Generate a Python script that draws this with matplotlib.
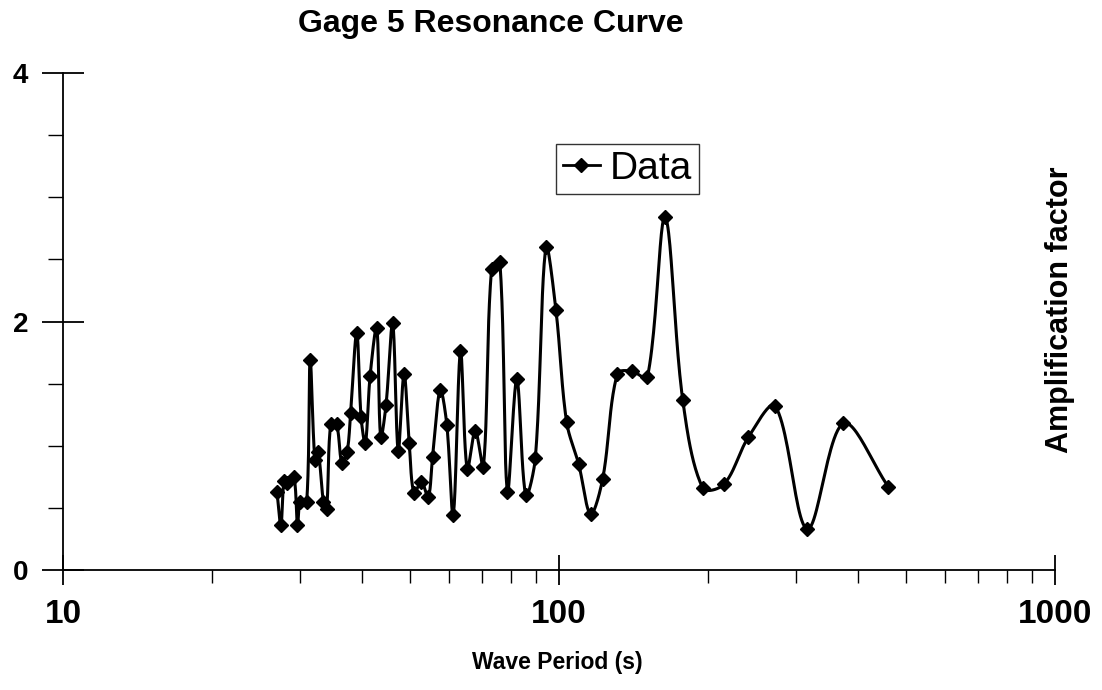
import numpy as np
import matplotlib
matplotlib.use("Agg")
import matplotlib.pyplot as plt
from matplotlib.ticker import FixedLocator, NullFormatter, LogLocator

plt.rcParams['font.family'] = ['Liberation Sans', 'DejaVu Sans']

# Data
period = [27.0, 27.5, 27.9, 28.3, 29.2, 29.7, 30.1, 31.0, 31.5, 32.2, 32.7, 33.5, 34.0,
          34.65, 35.6, 36.5, 37.4, 38.0, 39.1, 39.9, 40.7, 41.6, 42.9, 43.7, 44.8, 46.2,
          47.4, 48.7, 49.9, 51.0, 52.8, 54.5, 55.6, 57.6, 59.4, 61.2, 63.3, 65.3, 67.8,
          70.4, 73.1, 76.0, 78.7, 82.2, 85.7, 89.6, 94.1, 98.6, 103.6, 109.6, 115.8,
          122.5, 131.1, 140.3, 150.7, 163.6, 177.6, 194.9, 215.1, 241.0, 272.9, 316.7,
          374.3, 461.2]
amplification = [0.63, 0.36, 0.72, 0.70, 0.75, 0.36, 0.55, 0.55, 1.69, 0.885, 0.95, 0.55,
                 0.49, 1.175, 1.175, 0.86, 0.95, 1.26, 1.91, 1.23, 1.02, 1.56, 1.95, 1.07,
                 1.33, 1.985, 0.96, 1.58, 1.02, 0.62, 0.71, 0.585, 0.91, 1.45, 1.17, 0.44,
                 1.76, 0.81, 1.12, 0.83, 2.42, 2.48, 0.63, 1.535, 0.60, 0.90, 2.60, 2.09,
                 1.19, 0.85, 0.45, 0.735, 1.58, 1.60, 1.55, 2.84, 1.37, 0.66, 0.69, 1.07,
                 1.32, 0.33, 1.18, 0.67]

y_major = [0, 2, 4]
y_minor = [0.5, 1, 1.5, 2.5, 3, 3.5]
x_major = [10, 100, 1000]
x_tick_labels = ["10", "100", "1000"]

# axes geometry in pixels (used only for smoothing aspect)
PX_PER_DECADE = 496.0
PX_PER_UNIT = 124.25


def smooth(xs, ys, n=24):
    # spreadsheet-like smoothed line: Bezier segments, tangents scaled by segment lengths
    u = np.log10(np.asarray(xs, float)) * PX_PER_DECADE
    v = np.asarray(ys, float) * PX_PER_UNIT
    P = np.column_stack([u, v])
    P = np.vstack([P[0], P, P[-1]])
    out = []
    t = np.linspace(0, 1, n, endpoint=False)[:, None]
    for i in range(1, len(P) - 2):
        p0, p1, p2, p3 = P[i - 1], P[i], P[i + 1], P[i + 2]
        d0 = np.hypot(*(p1 - p0))
        d1 = np.hypot(*(p2 - p1))
        d2 = np.hypot(*(p3 - p2))
        f1 = d1 / (d0 + d1) if (d0 + d1) > 0 else 0
        f2 = d1 / (d1 + d2) if (d1 + d2) > 0 else 0
        c1 = p1 + (p2 - p0) * f1 / 3.0
        c2 = p2 - (p3 - p1) * f2 / 3.0
        seg = ((1 - t) ** 3) * p1 + 3 * ((1 - t) ** 2) * t * c1 + 3 * (1 - t) * t ** 2 * c2 + t ** 3 * p2
        out.append(seg)
    out.append(P[-2][None, :])
    out = np.vstack(out)
    return 10 ** (out[:, 0] / PX_PER_DECADE), out[:, 1] / PX_PER_UNIT


fig = plt.figure(figsize=(11.02, 6.9), dpi=100)
ax = fig.add_axes([63 / 1102, 1 - 570 / 690, (1055 - 63) / 1102, (570 - 73) / 690])

sx, sy = smooth(period, amplification)
ax.plot(sx, sy, color='black', lw=2.2, zorder=2)
ax.plot(period, amplification, linestyle='none', marker='D', markersize=7,
        color='black', zorder=3)
# legend proxy
ax.plot([], [], color='black', lw=2.0, marker='D', markersize=7, label='Data')

ax.set_xscale('log')
ax.set_xlim(10, 1000)
ax.set_ylim(0, 4)

for s in ['top', 'right']:
    ax.spines[s].set_visible(False)
ax.spines['left'].set_linewidth(1.3)
ax.spines['bottom'].set_linewidth(1.3)

ax.yaxis.set_major_locator(FixedLocator(y_major))
ax.yaxis.set_minor_locator(FixedLocator(y_minor))
ax.set_yticklabels([str(v) for v in y_major])
ax.xaxis.set_major_locator(FixedLocator(x_major))
ax.set_xticklabels(x_tick_labels)
ax.xaxis.set_minor_locator(LogLocator(base=10, subs=np.arange(2, 10)))
ax.xaxis.set_minor_formatter(NullFormatter())

ax.tick_params(axis='y', which='major', direction='inout', length=30, width=1.3,
               labelsize=20, pad=10)
ax.tick_params(axis='y', which='minor', direction='out', length=11, width=1.0)
ax.tick_params(axis='x', which='major', direction='inout', length=22, width=1.3,
               labelsize=24, pad=10)
ax.tick_params(axis='x', which='minor', direction='out', length=9, width=1.0)
for lab in ax.get_xticklabels() + ax.get_yticklabels():
    lab.set_fontweight('bold')

fig.text(491 / 1102, 1 - 24 / 690, 'Gage 5 Resonance Curve', ha='center', va='center',
         fontsize=23, fontweight='bold')
fig.text(557 / 1102, 1 - 663 / 690, 'Wave Period (s)', ha='center', va='center',
         fontsize=16.5, fontweight='bold')
fig.text(1060 / 1102, 1 - 310 / 690, 'Amplification factor', ha='center', va='center',
         rotation=90, fontsize=22, fontweight='bold')

leg = ax.legend(loc='upper left', bbox_to_anchor=(0.497, 0.857), fontsize=28,
                frameon=True, fancybox=False, handlelength=0.95, handletextpad=0.25,
                borderpad=0.18, borderaxespad=0)
leg.get_frame().set_edgecolor('black')
leg.get_frame().set_linewidth(1.0)

fig.savefig('out.png', dpi=100)
